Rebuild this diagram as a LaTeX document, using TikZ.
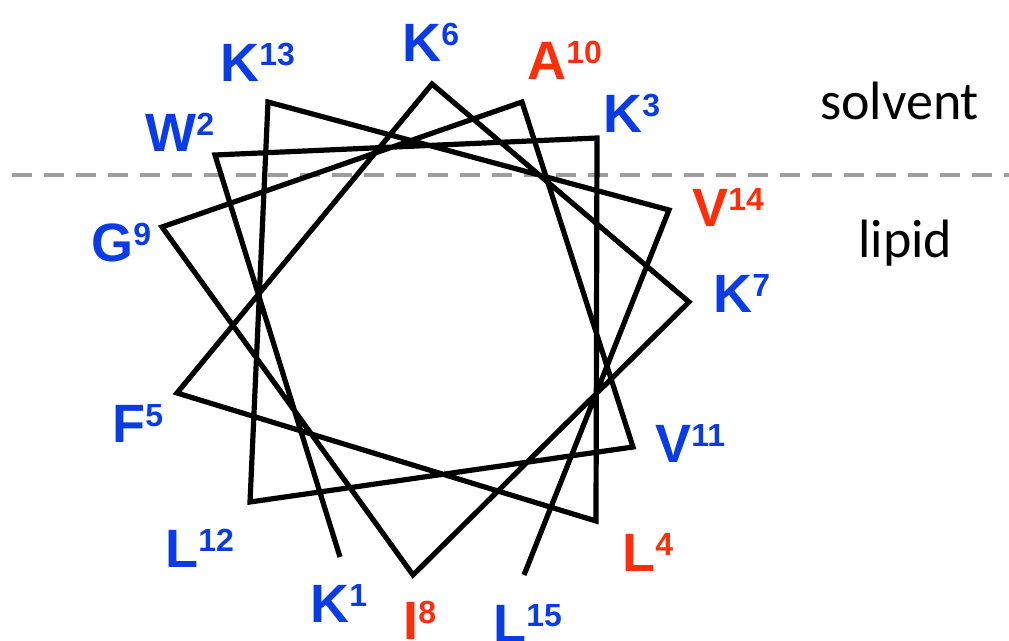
\documentclass[tikz,border=0pt]{standalone}
\usepackage{fontspec}
\setmainfont{Liberation Sans}
\newfontfamily\calibri{Carlito}
\usepackage{xcolor}
\definecolor{resblue}{HTML}{0A3CE6}
\definecolor{resred}{HTML}{FF2E0A}
\definecolor{border}{HTML}{9E9E9E}
\usepackage{tikz}
\tikzset{
  wheel/.style={draw=black, line width=2.6pt, line join=miter},
  aa/.style={anchor=base west, inner sep=0pt, text=#1,
             font=\fontsize{27}{27}\selectfont\bfseries},
  phase/.style={anchor=base west, inner sep=0pt,
                font=\calibri\fontsize{27}{27}\selectfont},
  membrane/.style={draw=border, line width=2.4pt, dash pattern=on 10pt off 6pt}
}
\newcommand{\res}[2]{#1\raisebox{8pt}{\fontsize{16}{16}\selectfont #2}}

\begin{document}
\begin{tikzpicture}[x=0.5pt, y=-0.5pt]
  \useasboundingbox (0,0) rectangle (1009,641);

  %% membrane boundary
  \coordinate (ml) at (12,175);
  \coordinate (mr) at (1009,175);
  \draw[membrane] (ml) -- (mr);
  \node[phase] (solv) at (820,120) {solvent};
  \node[phase] (lip)  at (858,258) {lipid};

  %% wheel vertices
  \coordinate (r1)  at (340,557);
  \coordinate (r2)  at (215,155);
  \coordinate (r3)  at (597,138);
  \coordinate (r4)  at (596,521);
  \coordinate (r5)  at (177,393);
  \coordinate (r6)  at (432,84);
  \coordinate (r7)  at (689,302);
  \coordinate (r8)  at (413,575);
  \coordinate (r9)  at (162,227);
  \coordinate (r10) at (522,102);
  \coordinate (r11) at (633,447);
  \coordinate (r12) at (250,502);
  \coordinate (r13) at (268,102);
  \coordinate (r14) at (669,210);
  \coordinate (r15) at (524,575);

  \draw[wheel] (r1) -- (r2) -- (r3) -- (r4) -- (r5) -- (r6) -- (r7) -- (r8)
    -- (r9) -- (r10) -- (r11) -- (r12) -- (r13) -- (r14) -- (r15);

  %% residues
  \node[aa=resblue] (l1)  at (310,623) {\res{K}{1}};
  \node[aa=resblue] (l2)  at (145,152) {\res{W}{2}};
  \node[aa=resblue] (l3)  at (603,133) {\res{K}{3}};
  \node[aa=resred]  (l4)  at (622,572) {\res{L}{4}};
  \node[aa=resblue] (l5)  at (112,443) {\res{F}{5}};
  \node[aa=resblue] (l6)  at (402,62)  {\res{K}{6}};
  \node[aa=resblue] (l7)  at (713,313) {\res{K}{7}};
  \node[aa=resred]  (l8)  at (403,640) {\res{I}{8}};
  \node[aa=resblue] (l9)  at (91,262)  {\res{G}{9}};
  \node[aa=resred]  (l10) at (527,80)  {\res{A}{10}};
  \node[aa=resblue] (l11) at (655,463) {\res{V}{11}};
  \node[aa=resblue] (l12) at (165,568) {\res{L}{12}};
  \node[aa=resblue] (l13) at (220,82)  {\res{K}{13}};
  \node[aa=resred]  (l14) at (692,227) {\res{V}{14}};
  \node[aa=resblue] (l15) at (493,643) {\res{L}{15}};

\end{tikzpicture}
\end{document}
